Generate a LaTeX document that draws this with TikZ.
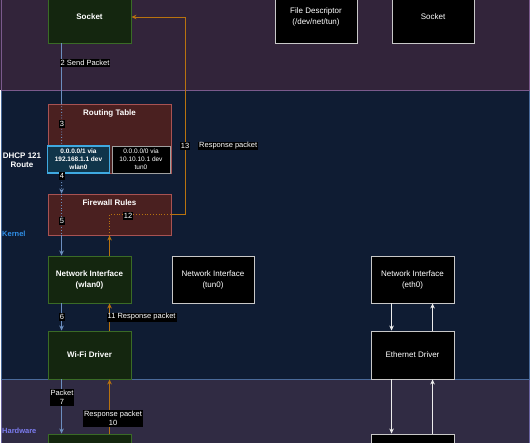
\documentclass[tikz,border=0pt]{standalone}
\usepackage{fontspec}
\setmainfont{Liberation Sans}
\usetikzlibrary{arrows.meta,calc}
\definecolor{userbg}{HTML}{32243A}
\definecolor{userbd}{HTML}{7A5A8C}
\definecolor{kernbg}{HTML}{0F1C33}
\definecolor{kernbd}{HTML}{4A6A9A}
\definecolor{hwbg}{HTML}{302B43}
\definecolor{hwbd}{HTML}{6A64A0}
\definecolor{gfill}{HTML}{14260F}
\definecolor{gbord}{HTML}{3A6B26}
\definecolor{rfill}{HTML}{4A2020}
\definecolor{rbord}{HTML}{A85252}
\definecolor{sfill}{HTML}{10354A}
\definecolor{sbord}{HTML}{3FA9E0}
\definecolor{bline}{HTML}{6C8EBF}
\definecolor{oline}{HTML}{B8730F}
\definecolor{kerntxt}{HTML}{2F8FE8}
\definecolor{hwtxt}{HTML}{7C7CF0}
\definecolor{graybd}{HTML}{C8C8C8}
\begin{document}
\begin{tikzpicture}[x=1pt,y=-1pt,
  gbox/.style={draw=gbord,fill=gfill,line width=0.9pt,text=white,align=center,
    font=\fontsize{8}{11}\selectfont\bfseries,inner sep=0pt},
  kbox/.style={draw=graybd,fill=black,line width=0.9pt,text=white,align=center,
    font=\fontsize{8}{11}\selectfont,inner sep=0pt},
  rbox/.style={draw=rbord,fill=rfill,line width=0.9pt,inner sep=0pt},
  rtitle/.style={text=white,font=\fontsize{8}{10}\selectfont\bfseries,inner sep=0pt},
  lbl/.style={fill=black,text=white,inner sep=1pt,align=center,
    font=\fontsize{7.5}{9}\selectfont},
  bl/.style={draw=bline,line width=0.8pt},
  ol/.style={draw=oline,line width=0.8pt},
  wl/.style={draw=white!85!gray,line width=0.8pt},
  dotl/.style={dotted,line width=1pt},
  tip/.style={-{Stealth[length=5pt,width=4.5pt]}},
]
\clip (0,0) rectangle (530,442);
% regions
\path[fill=userbg] (0,-10) rectangle (530,90);
\draw[draw=hwbd,line width=0.8pt,fill=hwbg] (1,379.5) rectangle (529,470);
\draw[draw=kernbd,line width=0.8pt,fill=kernbg] (1,90.5) rectangle (529,379);
\draw[draw=userbd,line width=0.8pt,fill=userbg] (1,-10) rectangle (529,90);

% region labels
\node[text=kerntxt,font=\fontsize{7.5}{9}\selectfont\bfseries,anchor=west,inner sep=0pt] (kern) at (2,234) {Kernel};
\node[text=hwtxt,font=\fontsize{7.5}{9}\selectfont\bfseries,anchor=west,inner sep=0pt] (hw) at (2,431) {Hardware};
\node[text=white,font=\fontsize{8}{9.5}\selectfont\bfseries,align=center,inner sep=0pt] (dhcp) at (22,160) {DHCP 121\\Route};

% top boxes
\node[gbox,minimum width=83pt,minimum height=52pt] (socket) at (89.5,17) {Socket};
\node[kbox,minimum width=82pt,minimum height=52pt] (fd) at (316,17) {File Descriptor\\(/dev/net/tun)};
\node[kbox,minimum width=82pt,minimum height=52pt] (sock2) at (433,17) {Socket};

% routing table and firewall
\node[rbox,minimum width=123pt,minimum height=69pt] (rt) at (109.5,138.5) {};
\node[rtitle] (rtt) at (109.5,113) {Routing Table};
\node[draw=sbord,fill=sfill,line width=1.6pt,minimum width=62pt,minimum height=27pt,inner sep=0pt,
  text=white,align=center,font=\fontsize{6.5}{8}\selectfont\bfseries] (sub1) at (78.5,159.5)
  {0.0.0.0/1 via\\192.168.1.1 dev\\wlan0};
\node[draw=graybd!80!black,fill=black,line width=0.9pt,minimum width=58pt,minimum height=27pt,inner sep=0pt,
  text=white,align=center,font=\fontsize{6.5}{8}\selectfont] (sub2) at (141,159.5)
  {0.0.0.0/0 via\\10.10.10.1 dev\\tun0};
\node[rbox,minimum width=123pt,minimum height=41pt] (fw) at (109.5,214.5) {};
\node[rtitle] (fwt) at (109.5,203) {Firewall Rules};

% kernel boxes
\node[gbox,minimum width=83pt,minimum height=47pt] (niw) at (89.5,279.5) {Network Interface\\(wlan0)};
\node[kbox,minimum width=82pt,minimum height=47pt] (nit) at (213,279.5) {Network Interface\\(tun0)};
\node[kbox,minimum width=83pt,minimum height=47pt] (nie) at (412.5,279.5) {Network Interface\\(eth0)};
\node[gbox,minimum width=83pt,minimum height=48pt] (wifi) at (89.5,355) {Wi-Fi Driver};
\node[kbox,minimum width=83pt,minimum height=48pt] (ethd) at (412.5,355) {Ethernet Driver};

% hardware boxes
\node[gbox,minimum width=83pt,minimum height=48pt] (wcard) at (89.5,458) {};
\node[kbox,minimum width=83pt,minimum height=48pt] (ecard) at (412.5,458) {};

% blue path
\draw[bl] ([xshift=14pt]socket.south west) -- ([xshift=14pt]rt.north west);
\draw[bl,dotl] ([xshift=14pt]rt.north west) -- ([xshift=15pt]sub1.north west);
\draw[bl,dotl,tip] ([xshift=15pt]sub1.south west) -- ([xshift=14pt]fw.north west);
\draw[bl,dotl] ([xshift=14pt]fw.north west) -- ([xshift=14pt]fw.south west);
\draw[bl,tip] ([xshift=14pt]fw.south west) -- ([xshift=14pt]niw.north west);
\draw[bl,tip] ([xshift=14pt]niw.south west) -- ([xshift=14pt]wifi.north west);
\draw[bl,tip] ([xshift=14pt]wifi.south west) -- ([xshift=14pt]wcard.north west);

% orange path
\coordinate (bend) at (185,17);
\draw[ol,tip] ([xshift=62pt]wcard.north west) -- ([xshift=62pt]wifi.south west);
\draw[ol,tip] ([xshift=62pt]wifi.north west) -- ([xshift=62pt]niw.south west);
\draw[ol,tip] ([xshift=62pt]niw.north west) -- ([xshift=62pt]fw.south west);
\draw[ol,dotl] ([xshift=62pt]fw.south west) |- (fw.east);
\draw[ol,tip] (fw.east) -| (bend) -- (socket.east);

% ethernet arrows
\draw[wl,tip] ([xshift=21pt]nie.south west) -- ([xshift=21pt]ethd.north west);
\draw[wl,tip] ([xshift=62pt]ethd.north west) -- ([xshift=62pt]nie.south west);
\draw[wl,tip] ([xshift=21pt]ethd.south west) -- ([xshift=21pt]ecard.north west);
\draw[wl,tip] ([xshift=62pt]ecard.north west) -- ([xshift=62pt]ethd.south west);

% labels
\node[lbl,anchor=west] (l2) at (59.5,63) {2 Send Packet};
\node[lbl] (l3) at (62,124) {3};
\node[lbl] (l4) at (62,176) {4};
\node[lbl] (l5) at (62,221) {5};
\node[lbl] (l6) at (62,317) {6};
\node[lbl,anchor=west] (l11) at (106.5,317) {11 Response packet};
\node[lbl] (l7) at (62,397.5) {Packet\\7};
\node[lbl] (l10) at (113,418.5) {Response packet\\10};
\node[lbl] (l12) at (128,216) {12};
\node[lbl] (l13) at (185,146) {13};
\node[lbl,anchor=west] (l13b) at (198,146) {Response packet};
\end{tikzpicture}
\end{document}
